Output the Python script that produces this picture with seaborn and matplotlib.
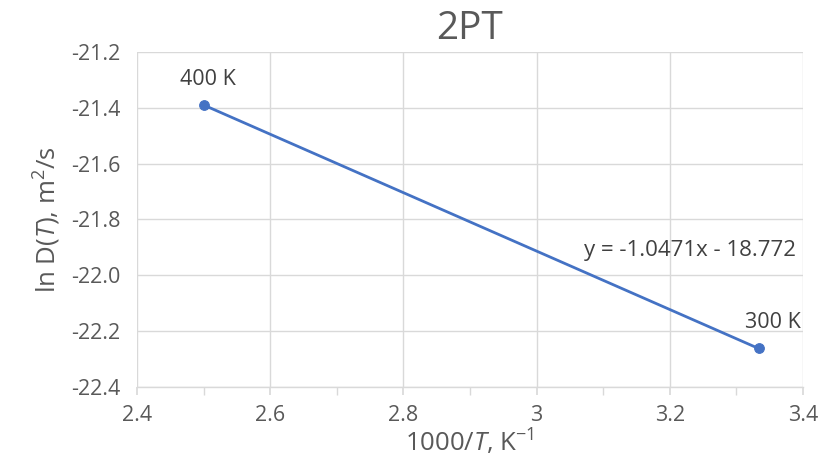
import matplotlib
matplotlib.use("Agg")
import matplotlib.pyplot as plt
from matplotlib.ticker import MultipleLocator
import seaborn as sns
import pandas as pd

inv_T = [2.5, 3.3333]
lnD = [-21.390, -22.262]
labels = ["400 K", "300 K"]
equation = "y = -1.0471x - 18.772"
title = "2PT"

sns.set_theme(style="white")
plt.rcParams['font.family'] = ['Open Sans', 'DejaVu Sans']
plt.rcParams['mathtext.fontset'] = 'custom'
plt.rcParams['mathtext.rm'] = 'Open Sans'
plt.rcParams['mathtext.it'] = 'Open Sans:italic'

df = pd.DataFrame({"x": inv_T, "y": lnD})

fig = plt.figure(figsize=(8.23, 4.67), dpi=100)
ax = fig.add_axes([0.1665, 0.1713, 0.8092, 0.7174])

sns.lineplot(data=df, x="x", y="y", ax=ax, color="#4472C4", linewidth=2,
             marker="o", markersize=7, markeredgecolor="#4472C4")

ax.set_xlim(2.4, 3.4)
ax.set_ylim(-22.4, -21.2)
ax.xaxis.set_minor_locator(MultipleLocator(0.1))
ax.set_xticks([2.4, 2.6, 2.8, 3.0, 3.2, 3.4])
ax.set_xticklabels(["2.4", "2.6", "2.8", "3", "3.2", "3.4"])
ax.set_yticks([-22.4, -22.2, -22.0, -21.8, -21.6, -21.4, -21.2])
ax.set_yticklabels(["-22.4", "-22.2", "-22.0", "-21.8", "-21.6", "-21.4", "-21.2"])
ax.grid(True, which="major", color="#d9d9d9", linewidth=1)
for s in ["top", "right", "left"]:
    ax.spines[s].set_visible(False)
ax.spines["bottom"].set_color("#d9d9d9")
ax.spines["bottom"].set_linewidth(1)
ax.tick_params(axis="x", which="both", direction="out", length=6, color="#d9d9d9",
               bottom=True, labelsize=15.5, labelcolor="#595959", pad=7)
ax.tick_params(axis="y", length=0, labelsize=15.5, labelcolor="#595959", pad=12)

ax.set_xlabel(r"1000/$T$, K$^{-1}$", fontsize=18.5, color="#595959", labelpad=1)
ax.set_ylabel(r"ln D($T$), m$^{2}$/s", fontsize=18.5, color="#595959", labelpad=6)
fig.text(0.571, 0.937, title, ha="center", va="center", fontsize=28, color="#595959")

offsets = [(3, 11), (10, 11)]
for xv, yv, lab, off in zip(inv_T, lnD, labels, offsets):
    ax.annotate(lab, (xv, yv), xytext=off, textcoords="offset points",
                ha="center", va="bottom", fontsize=15.5, color="#404040")

ax.text(3.23, -21.95, equation, ha="center", va="bottom", fontsize=16, color="#404040")

fig.savefig("out.png", dpi=100)
